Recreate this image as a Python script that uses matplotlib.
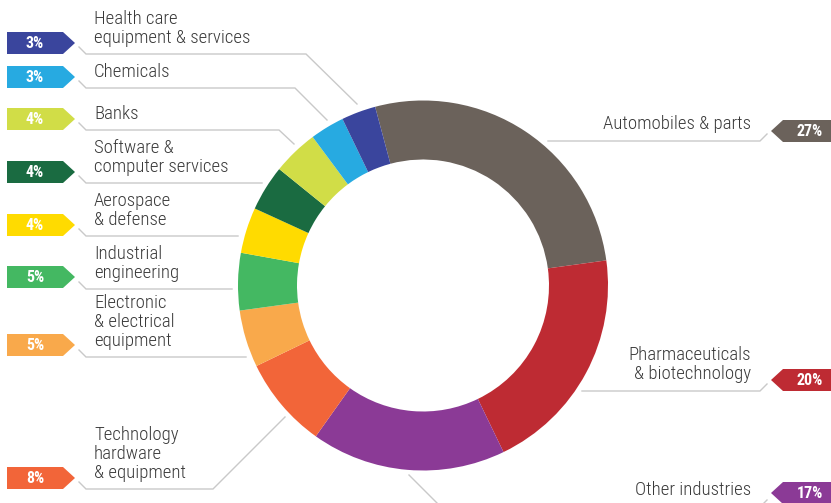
import matplotlib.pyplot as plt
from matplotlib import font_manager as fm
from matplotlib.patches import Polygon

# data, clockwise from the top
industries = ["Automobiles & parts", "Pharmaceuticals\n& biotechnology", "Other industries",
              "Technology\nhardware\n& equipment", "Electronic\n& electrical\nequipment",
              "Industrial\nengineering", "Aerospace\n& defense", "Software &\ncomputer services",
              "Banks", "Chemicals", "Health care\nequipment & services"]
shares = [27, 20, 17, 8, 5, 5, 4, 4, 4, 3, 3]
colors = ["#6b625b", "#be2b33", "#8b3a96", "#f26539", "#f9a94b", "#44b862",
          "#ffdb00", "#1a6b41", "#d1dd47", "#27aae1", "#3a459d"]

# layout: side, tag centre y, line y, line path to the ring
layout = [
    ("R", 131, 141, [(548, 141)]),
    ("R", 380, 391, [(582, 391)]),
    ("R", 493, 507, [(409, 475), (441, 507)]),
    ("L", 478, 489, [(213, 489), (285, 417)]),
    ("L", 345, 357, [(246, 357)]),
    ("L", 277, 289, [(232, 289)]),
    ("L", 225, 236, [(238, 236)]),
    ("L", 172, 183, [(262, 183)]),
    ("L", 119, 130, [(279, 130), (294, 144)]),
    ("L", 77, 88, [(295, 88), (327, 120)]),
    ("L", 43, 54, [(306, 54), (357, 104)]),
]

avail = {f.name for f in fm.fontManager.ttflist}
font = "Roboto"
for cand in ["Roboto Condensed", "Liberation Sans Narrow", "Arial Narrow"]:
    if cand in avail:
        font = cand
        break
narrow = font != "Roboto"
lab_size = 13.5 if narrow else 11.3
pct_size = 11.5 if narrow else 10.5

fig = plt.figure(figsize=(8.31, 5.03), dpi=100)
ax = fig.add_axes([0, 0, 1, 1])

ax.pie(shares, colors=colors, startangle=255, counterclock=True,
       radius=185, center=(423, 285.5),
       wedgeprops=dict(width=59, linewidth=0))

ax.set_xlim(0, 831)
ax.set_ylim(503, 0)
ax.set_aspect("equal")
ax.axis("off")

line_col = "#c9c9c9"
for name, val, col, (side, ty, ly, path) in zip(industries, shares, colors, layout):
    if side == "L":
        pts = [(79, ly - 7), (86, ly)] + path
        tag = [(7, ty - 11), (63, ty - 11), (75, ty), (63, ty + 11), (7, ty + 11)]
        ax.text(94, ly - 11, name, ha="left", va="baseline", fontsize=lab_size,
                family=font, fontweight="light", color="#3a3a3a", linespacing=1.07)
        ax.text(35, ty + 0.5, f"{val}%", ha="center", va="center", fontsize=pct_size,
                family=font, fontweight="bold", color="white")
    else:
        pts = path + [(760, ly), (767, ly - 7)]
        tag = [(831, ty - 11), (783, ty - 11), (771, ty), (783, ty + 11), (831, ty + 11)]
        ax.text(751, ly - 12, name, ha="right", va="baseline", fontsize=lab_size,
                family=font, fontweight="light", color="#3a3a3a", linespacing=1.07,
                multialignment="right")
        ax.text(810, ty + 0.5, f"{val}%", ha="center", va="center", fontsize=pct_size,
                family=font, fontweight="bold", color="white")
    xs, ys = zip(*pts)
    ax.plot(xs, ys, color=line_col, lw=1, solid_joinstyle="miter")
    ax.add_patch(Polygon(tag, closed=True, facecolor=col, edgecolor="none"))

fig.savefig("out.png", dpi=100)
